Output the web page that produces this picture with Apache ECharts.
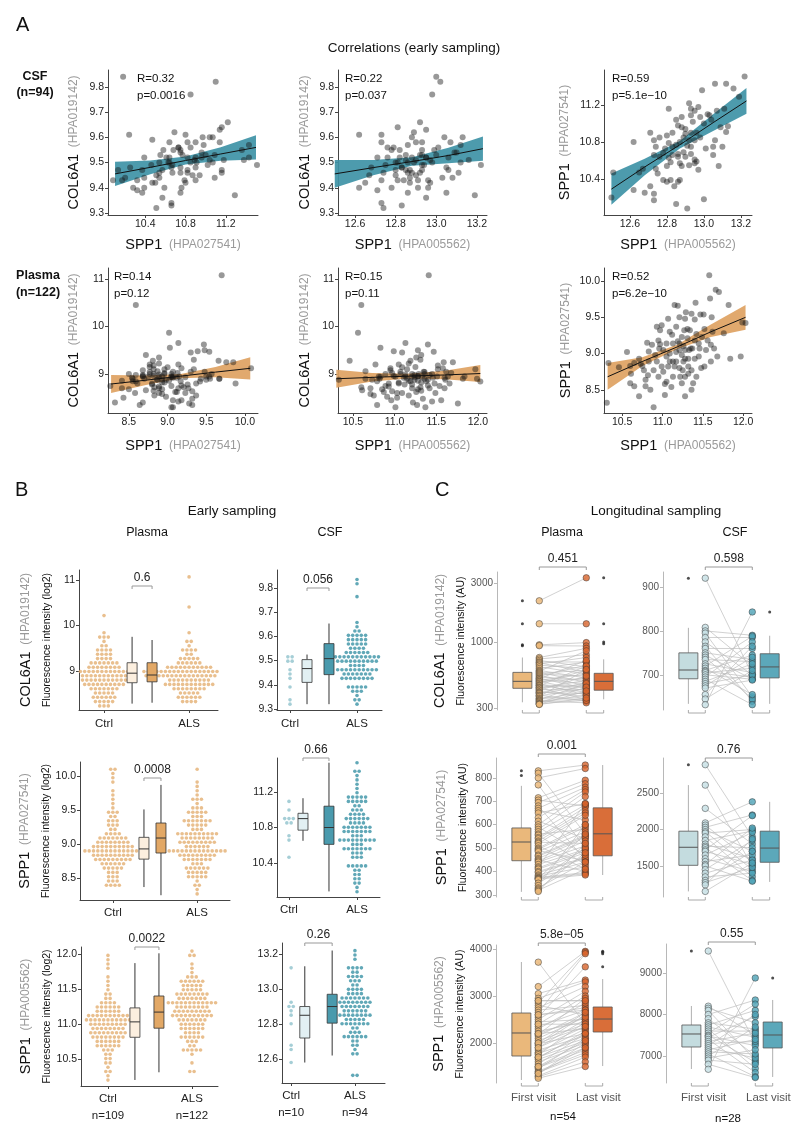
<!DOCTYPE html>
<html><head><meta charset="utf-8">
<script src="https://cdn.jsdelivr.net/npm/echarts@6/dist/echarts.min.js"></script>
<style>html,body{margin:0;padding:0;background:#fff}#c{width:800px;height:1138px}</style>
</head><body><div id="c"></div>
<script>
// ---------------- DATA ----------------
// CSF cohort (ALS, n=94): SPP1 HPA005562, SPP1 HPA027541, COL6A1 HPA019142
const csfSppB = [12.50,12.51,12.62,12.62,12.65,12.67,12.71,12.71,12.73,12.73,12.73,12.74,12.75,12.76,12.78,12.79,12.80,12.80,12.81,12.81,12.81,12.82,12.83,12.84,12.85,12.86,12.85,12.86,12.86,12.87,12.87,12.88,12.88,12.89,12.90,12.90,12.91,12.91,12.92,12.93,12.93,12.93,12.93,12.94,12.95,12.95,12.95,12.97,12.97,12.98,12.99,13.00,13.01,13.03,13.04,13.05,13.06,13.06,13.07,13.08,13.09,13.11,13.12,13.12,13.13,13.16,13.19,13.22,12.86,12.89,12.78,12.73,12.68,12.83,12.92,12.95,12.96,12.82,12.83,12.87,12.90,13.02,12.98,12.76,12.80,12.88,12.92,12.93,12.96,13.00,13.05,13.10,12.85,12.74];
const csfSppA = [10.20,10.47,10.28,10.80,10.47,10.51,10.90,10.32,10.24,10.82,10.66,10.75,10.46,10.64,10.39,10.73,10.87,10.37,11.16,10.63,10.79,10.58,10.75,10.32,10.77,10.37,11.04,10.67,10.98,10.80,10.57,10.96,11.07,10.85,10.94,10.64,10.76,10.08,11.22,11.16,11.09,10.67,10.75,11.02,10.57,11.14,10.82,11.18,10.50,11.07,11.36,10.18,10.73,11.09,11.04,10.75,11.43,10.82,11.14,10.54,10.96,11.16,11.43,10.91,10.97,11.38,11.29,11.51,10.64,10.69,10.68,10.17,10.25,10.66,10.82,10.61,10.59,10.39,10.90,10.39,10.89,11.10,10.85,10.85,10.54,10.54,10.55,10.90,10.90,11.00,10.66,10.75,10.13,10.51];
const csfCol6 = [9.44,9.59,9.40,9.61,9.42,9.45,9.52,9.39,9.61,9.58,9.34,9.46,9.49,9.52,9.40,9.56,9.45,9.47,9.64,9.50,9.43,9.55,9.48,9.43,9.53,9.38,9.51,9.46,9.57,9.42,9.47,9.52,9.60,9.50,9.45,9.58,9.40,9.43,9.66,9.47,9.53,9.49,9.55,9.49,9.36,9.63,9.52,9.51,9.42,9.50,9.55,9.84,9.56,9.44,9.60,9.38,9.52,9.47,9.58,9.44,9.54,9.46,9.57,9.50,9.60,9.51,9.37,9.49,9.50,9.62,9.55,9.43,9.48,9.33,9.46,9.52,9.40,9.52,9.48,9.44,9.51,9.82,9.77,9.56,9.50,9.46,9.53,9.58,9.43,9.53,9.48,9.54,9.47,9.32];
// Plasma cohort (ALS, n=122)
const plSppB = [10.31,10.33,10.46,10.56,10.60,10.60,10.61,10.71,10.73,10.75,10.77,10.79,10.81,10.82,10.83,10.87,10.89,10.93,10.95,10.96,10.97,10.99,11.01,11.03,11.03,11.05,11.07,11.07,11.09,11.11,11.12,11.13,11.15,11.15,11.17,11.19,11.19,11.21,11.21,11.21,11.22,11.24,11.25,11.26,11.27,11.28,11.28,11.29,11.31,11.31,11.32,11.33,11.34,11.35,11.36,11.37,11.38,11.40,11.41,11.42,11.45,11.46,11.47,11.48,11.49,11.51,11.52,11.54,11.56,11.58,11.59,11.61,11.62,11.64,11.66,11.70,11.76,11.82,11.84,11.97,11.99,10.79,10.89,10.65,10.85,11.01,11.05,11.09,11.13,11.17,11.21,11.26,11.28,11.32,11.36,11.40,11.42,11.45,11.52,11.60,11.68,10.65,10.71,10.83,10.93,10.99,10.91,11.09,11.17,11.24,11.28,10.95,11.05,11.24,11.32,11.40,11.13,11.60,10.97,11.28,11.36,12.03];
const plSppA = [8.32,8.87,8.81,9.02,8.83,8.59,8.72,8.41,8.86,8.83,8.77,8.64,9.15,8.70,9.03,9.12,8.26,9.37,9.18,9.07,9.13,9.39,9.05,8.58,8.43,9.14,9.48,8.82,9.30,8.54,9.26,9.14,9.67,8.82,9.37,9.17,9.66,9.14,9.50,9.05,8.68,8.98,8.77,9.10,9.32,9.48,9.05,9.57,9.21,9.34,8.93,9.05,9.32,9.07,9.55,9.07,8.59,9.47,9.70,9.27,8.96,9.07,9.54,8.80,9.23,9.54,9.34,9.05,9.18,10.08,9.76,9.50,9.30,9.07,9.88,9.85,9.28,9.67,8.93,8.96,9.43,8.55,8.77,8.55,8.50,8.75,8.96,8.89,8.68,8.89,8.80,8.89,8.68,8.82,8.77,8.93,8.68,9.14,8.82,8.89,8.96,8.87,8.93,8.89,8.89,8.82,8.98,9.00,9.02,9.23,8.93,8.68,8.61,8.59,8.72,9.18,8.89,9.12,9.32,8.41,8.50,9.42];
const plCol6 = [8.40,8.88,9.28,9.87,8.72,10.45,8.66,8.70,8.88,8.55,9.20,8.35,8.95,8.90,9.55,8.62,8.75,8.80,9.12,8.45,9.02,9.48,8.30,8.60,8.50,9.20,9.05,9.00,9.45,8.92,8.78,9.65,8.90,9.10,8.55,8.85,9.28,8.70,8.95,9.00,8.40,8.88,9.15,8.62,8.35,9.50,8.95,9.00,8.72,9.30,8.82,8.93,8.48,9.05,8.90,8.30,8.85,9.62,11.08,8.70,9.00,8.92,9.47,8.80,8.60,8.95,9.10,8.75,8.45,9.12,9.25,8.88,9.05,8.95,8.80,9.25,8.38,8.90,8.95,9.10,8.90,8.85,9.00,8.90,8.68,8.94,8.82,8.60,8.95,9.22,8.78,9.35,8.96,8.65,9.04,8.88,8.98,8.42,9.18,8.70,9.02,9.06,8.58,8.94,8.74,8.96,8.52,9.14,8.86,8.93,8.68,9.08,8.80,8.98,9.40,8.76,8.99,8.92,8.64,8.86,9.00,8.84];
// Controls
const plCtrlCol6 = [10.17,9.88,9.75,9.72,9.70,9.62,9.58,9.55,9.50,9.48,9.45,9.42,9.40,9.38,9.35,9.33,9.30,9.28,9.27,9.25,9.22,9.20,9.19,9.17,9.15,9.14,9.12,9.11,9.10,9.08,9.07,9.05,9.04,9.03,9.02,9.00,8.99,8.98,8.97,8.96,8.95,8.94,8.93,8.93,8.92,8.92,8.91,8.90,8.90,8.89,8.88,8.87,8.86,8.85,8.84,8.83,8.82,8.81,8.80,8.79,8.78,8.77,8.76,8.75,8.74,8.73,8.72,8.71,8.70,8.69,8.68,8.66,8.65,8.63,8.62,8.60,8.58,8.57,8.55,8.53,8.52,8.50,8.48,8.46,8.45,8.43,8.41,8.40,8.38,8.36,8.34,8.32,8.30,8.28,8.26,8.24,8.22,9.06,9.01,8.96,8.91,8.86,8.81,8.76,8.71,8.64,9.13,8.99,8.87];
const plCtrlSppA = [10.12,10.08,10.02,9.95,9.88,9.78,9.72,9.65,9.58,9.52,9.50,9.48,9.45,9.42,9.40,9.37,9.35,9.32,9.30,9.28,9.25,9.22,9.20,9.18,9.16,9.14,9.12,9.11,9.10,9.09,9.08,9.07,9.06,9.05,9.04,9.03,9.02,9.01,9.00,8.99,8.98,8.97,8.96,8.95,8.95,8.94,8.93,8.93,8.92,8.92,8.91,8.90,8.90,8.89,8.89,8.88,8.87,8.87,8.86,8.86,8.85,8.84,8.84,8.83,8.82,8.81,8.80,8.80,8.79,8.78,8.78,8.77,8.76,8.75,8.74,8.73,8.72,8.71,8.70,8.69,8.68,8.66,8.65,8.63,8.62,8.60,8.58,8.56,8.54,8.52,8.50,8.48,8.46,8.44,8.42,8.40,8.38,8.37,9.00,8.96,8.91,8.88,8.85,8.82,8.76,9.04,9.13,8.98,8.94];
const plCtrlSppB = [11.97,11.93,11.87,11.80,11.70,11.62,11.55,11.50,11.45,11.40,11.37,11.35,11.33,11.30,11.28,11.26,11.25,11.24,11.22,11.20,11.19,11.18,11.16,11.15,11.13,11.12,11.11,11.10,11.09,11.08,11.07,11.06,11.05,11.05,11.04,11.03,11.03,11.02,11.01,11.00,11.00,10.99,10.98,10.97,10.96,10.95,10.94,10.93,10.92,10.91,10.90,10.89,10.88,10.87,10.86,10.85,10.84,10.83,10.82,10.81,10.80,10.79,10.78,10.76,10.75,10.73,10.72,10.70,10.68,10.66,10.64,10.62,10.60,10.58,10.55,10.52,10.50,10.46,10.42,10.38,10.34,10.30,10.25,10.20,11.10,11.14,11.20,11.06,11.00,10.96,10.90,10.86,10.80,10.74,10.70,11.30,11.27,11.23,11.17,11.12,11.04,11.01,10.95,10.88,10.83,10.77,10.69,11.08,11.15];
const csfCtrlCol6 = [9.32,9.34,9.40,9.43,9.45,9.47,9.49,9.50,9.52,9.52];
const csfCtrlSppA = [10.48,10.65,10.72,10.83,10.86,10.88,10.89,10.92,11.02,11.11];
const csfCtrlSppB = [12.58,12.66,12.69,12.81,12.85,12.88,12.89,12.90,12.92,13.13];

// Box statistics panel B [min, q1, median, q3, max]
const boxB = [
  [[8.28,8.74,8.95,9.18,9.75],[8.30,8.76,8.91,9.18,9.68]],
  [[9.32,9.41,9.467,9.504,9.525],[9.32,9.442,9.508,9.57,9.653]],
  [[8.37,8.78,8.93,9.10,9.51],[8.25,8.87,9.09,9.31,9.87]],
  [[10.65,10.77,10.90,10.96,11.13],[10.08,10.61,10.80,11.04,11.53]],
  [[10.20,10.81,11.03,11.23,11.87],[10.31,10.94,11.17,11.40,12.01]],
  [[12.58,12.72,12.85,12.90,13.13],[12.62,12.805,12.90,12.97,13.22]]
];
const pB = ['0.6','0.056','0.0008','0.66','0.0022','0.26'];

// Panel C paired data (first visit, last visit)
const cPlCol6First = [2160,1415,960,945,760,740,720,700,690,675,660,640,620,600,590,580,570,560,550,540,530,520,515,505,500,490,485,475,470,460,455,450,440,435,430,420,415,405,400,395,390,380,375,370,360,355,350,345,340,335,330,325,322,320];
const cPlCol6Last  = [3300,1415,1000,940,900,800,640,700,580,760,620,560,700,520,860,480,600,540,450,660,500,430,720,470,560,410,520,600,380,440,400,650,460,350,500,420,540,370,390,480,450,340,430,610,360,400,470,350,330,380,440,345,410,360];
const cCsfCol6First = [920,808,800,795,785,775,765,760,750,745,740,735,725,720,715,710,708,705,700,695,690,685,680,675,670,655,645,632];
const cCsfCol6Last  = [700,720,790,650,785,700,640,760,735,690,645,730,705,788,655,745,695,715,690,775,632,725,700,740,688,765,710,843];
const cPlSppAFirst = [830,820,800,770,715,705,695,680,670,660,650,630,615,600,590,580,570,560,555,545,540,530,525,520,510,500,495,490,485,470,465,455,450,445,440,430,420,415,410,400,395,385,380,375,372,370,368,365,350,340,330,325,320,315];
const cPlSppALast  = [855,560,840,500,790,680,775,450,760,620,690,750,540,740,470,720,685,580,430,675,660,650,520,640,410,600,590,445,570,555,550,545,400,530,510,495,690,490,480,460,455,440,420,395,390,560,385,500,470,600,440,480,410,520];
const cCsfSppAFirst = [2890,2610,2290,2090,2060,2030,2000,1970,1950,1900,1850,1800,1770,1750,1720,1700,1650,1600,1560,1520,1500,1450,1400,1350,1300,1270,1240,1150];
const cCsfSppALast  = [1900,1500,1800,2380,1550,2200,1700,1450,2000,1350,1980,1600,1750,1300,2190,1520,1960,1420,1650,2020,1290,1850,1580,1400,1700,1480,1870,1540];
const cPlSppBFirst = [3720,3200,3050,2950,2900,2850,2800,2750,2700,2650,2600,2550,2500,2450,2400,2350,2300,2250,2200,2180,2150,2100,2050,2000,1980,1950,1900,1850,1800,1780,1750,1700,1680,1650,1600,1550,1500,1480,1450,1400,1380,1350,1300,1280,1250,2900,2600,2400,2200,2000,1900,1700,1500,1350];
const cPlSppBLast  = [2400,3950,3340,3300,2900,3930,2600,3200,2800,3900,2750,3620,3100,2500,3000,2700,2850,2450,2300,2950,2650,2550,2400,2350,2200,2600,2500,2150,2300,2100,2450,2050,2250,2000,1950,2200,1900,1850,2100,1800,1750,2000,1700,1600,1500,2900,2700,2400,2550,2650,2350,2200,2050,1900];
const cCsfSppBFirst = [9530,8200,8150,8100,8000,7900,7800,7750,7700,7650,7600,7550,7500,7480,7450,7400,7350,7300,7250,7200,7150,7100,7050,7000,6950,6900,6800,6680];
const cCsfSppBLast  = [7300,7500,7800,6900,8350,7000,7650,8100,7450,6700,7600,8250,6850,7250,7950,6600,7550,7350,8000,6950,7400,7050,6500,7700,7150,6800,6480,8880];
// Box statistics panel C [min,q1,median,q3,max] and outliers
const boxC = [
  [[333,431,490,578,760],[352,416,490,568,735]],
  [[634,691,711,750,807],[634,693,718,748,789]],
  [[313,446,526,586,766],[385,467,561,672,855]],
  [[1150,1508,1756,1977,2610],[1280,1550,1745,1977,2380]],
  [[1213,1723,2213,2638,3723],[1510,2234,2510,2766,3360]],
  [[6687,7217,7530,7747,8205],[6494,7193,7506,7819,8350]]
];
const outC = [
  [[2160,1415,960,945],[3300,1415,1010,980]],
  [[920],[843]],
  [[830,810],[]],
  [[2890],[]],
  [[],[3950,3930,3900,3620]],
  [[9530],[8880]]
];
const pC = ['0.451','0.598','0.001','0.76','5.8e\u221205','0.55'];

// Panel A correlation stats and fitted bands (x, fit, lower, upper)
const rA = ['0.32','0.22','0.59','0.14','0.15','0.52'];
const pA = ['0.0016','0.037','5.1e\u221210','0.12','0.11','6.2e\u221210'];
const bandX = [[10.1,10.45,10.8,11.15,11.5],[12.5,12.69,12.88,13.06,13.23],[12.5,12.68,12.87,13.05,13.23],[8.27,8.72,9.17,9.62,10.07],[10.3,10.73,11.16,11.6,12.03],[10.32,10.75,11.18,11.6,12.03]];
const bandFit = [[9.455,9.481,9.508,9.534,9.56],[9.455,9.480,9.504,9.528,9.555],[10.29,10.53,10.77,11.01,11.245],[8.79,8.87,8.955,9.04,9.12],[8.90,8.93,8.955,8.98,9.01],[8.68,8.89,9.09,9.30,9.50]];
const bandLo = [[9.407,9.454,9.492,9.507,9.512],[9.400,9.450,9.487,9.497,9.507],[10.12,10.44,10.73,10.92,11.105],[8.60,8.77,8.91,8.93,8.885],[8.71,8.84,8.905,8.89,8.83],[8.50,8.83,9.06,9.23,9.33]];
const bandHi = [[9.503,9.508,9.524,9.561,9.608],[9.510,9.510,9.521,9.559,9.603],[10.46,10.62,10.81,11.10,11.385],[8.98,8.97,9.00,9.15,9.355],[9.09,9.02,9.005,9.07,9.19],[8.87,8.95,9.12,9.40,9.67]];

// ---------------- BUILD ----------------
const F = 'Liberation Sans, Arial, Helvetica, sans-serif';
const grids=[], xAxes=[], yAxes=[], series=[], graphics=[];
const rects=[];
function addGrid(r, xa, ya){ const i=grids.length; rects.push(r); grids.push({left:r[0],top:r[1],width:r[2],height:r[3]}); xa.gridIndex=i; ya.gridIndex=i; xAxes.push(xa); yAxes.push(ya); return i; }
function ax(kind,min,max,ticks,fmt,extra){
  const c = kind==='C' ? '#b8b8b8' : '#444';
  const a = {type:'value',min:min,max:max,
    axisLine:{show:true,onZero:false,lineStyle:{color:c,width:1}},
    axisTick:{show:true,length:3,customValues:ticks,lineStyle:{color:c,width:1}},
    splitLine:{show:false},
    axisLabel:{customValues:ticks,formatter:fmt,fontSize:kind==='C'?10:10.5,color:kind==='C'?'#555':'#222',fontFamily:F,margin:4}};
  return Object.assign(a, extra||{});
}
const f1=v=>v.toFixed(1), f0=v=>String(Math.round(v));
const richG={g:{fontSize:14.5,color:'#111',fontFamily:F,lineHeight:24},h:{fontSize:12,color:'#9a9a9a',fontFamily:F,lineHeight:24},f:{fontSize:10.5,color:'#111',fontFamily:F,lineHeight:18}};
function gname(g,h){return '{g|'+g+'}  {h|('+h+')}';}
function text(t,x,y,o){o=o||{};graphics.push({type:'text',x:x,y:y,silent:true,style:{text:t,fontSize:o.s||12,fontFamily:F,fontWeight:o.b?'bold':'normal',fill:o.c||'#111',textAlign:o.a||'left',textVerticalAlign:o.v||'middle',verticalAlign:o.v||'middle'}});}

// ----- Panel A -----
const aRects=[[108,70,150,145],[338,70,149,145],[604,70,148,145],[108,268,150,145],[338,268,149,145],[604,268,148,145]];
const aX=[[10.03,11.52,[10.4,10.8,11.2],f1],[12.516,13.25,[12.6,12.8,13.0,13.2],f1],[12.46,13.26,[12.6,12.8,13.0,13.2],f1],[8.23,10.17,[8.5,9.0,9.5,10.0],f1],[10.32,12.11,[10.5,11.0,11.5,12.0],f1],[10.275,12.11,[10.5,11.0,11.5,12.0],f1]];
const aY=[[9.292,9.867,[9.3,9.4,9.5,9.6,9.7,9.8],f1],[9.292,9.867,[9.3,9.4,9.5,9.6,9.7,9.8],f1],[10.01,11.58,[10.4,10.8,11.2],f1],[8.18,11.23,[9,10,11],f0],[8.18,11.23,[9,10,11],f0],[8.18,10.18,[8.5,9.0,9.5,10.0],f1]];
const aXn=[['SPP1','HPA027541'],['SPP1','HPA005562'],['SPP1','HPA005562'],['SPP1','HPA027541'],['SPP1','HPA005562'],['SPP1','HPA005562']];
const aYn=[['COL6A1','HPA019142'],['COL6A1','HPA019142'],['SPP1','HPA027541'],['COL6A1','HPA019142'],['COL6A1','HPA019142'],['SPP1','HPA027541']];
const aPts=[[csfSppA,csfCol6],[csfSppB,csfCol6],[csfSppB,csfSppA],[plSppA,plCol6],[plSppB,plCol6],[plSppB,plSppA]];
const aYgap=[22,21,27,22,21,26];
const aStatDx=[29,7,8,6,7,8];
for(let k=0;k<6;k++){
  const r=aRects[k];
  const gi=addGrid(r,
    ax('A',aX[k][0],aX[k][1],aX[k][2],aX[k][3],{name:gname(aXn[k][0],aXn[k][1]),nameLocation:'middle',nameGap:k<3?18:21,nameTextStyle:{rich:richG}}),
    ax('A',aY[k][0],aY[k][1],aY[k][2],aY[k][3],{name:gname(aYn[k][0],aYn[k][1]),nameLocation:'middle',nameRotate:90,nameGap:aYgap[k],nameTextStyle:{rich:richG}}));
  const col = k<3 ? '#3e93a6' : '#dea262';
  const bx=bandX[k], lo=bandLo[k], hi=bandHi[k], fit=bandFit[k];
  series.push({type:'custom',xAxisIndex:gi,yAxisIndex:gi,z:2,silent:true,data:[[bx[2],fit[2]]],renderItem:function(p,api){
    const pts=[]; for(let j=0;j<bx.length;j++) pts.push(api.coord([bx[j],hi[j]])); for(let j=bx.length-1;j>=0;j--) pts.push(api.coord([bx[j],lo[j]]));
    return {type:'polygon',shape:{points:pts},style:{fill:col,opacity:0.92}};
  }});
  const xs=aPts[k][0], ys=aPts[k][1];
  series.push({type:'scatter',xAxisIndex:gi,yAxisIndex:gi,z:3,symbolSize:6,silent:true,itemStyle:{color:'rgba(20,20,20,0.55)'},data:xs.map((x,i)=>[x,ys[i]])});
  series.push({type:'custom',xAxisIndex:gi,yAxisIndex:gi,z:4,silent:true,data:[[bx[2],fit[2]]],renderItem:function(p,api){
    return {type:'polyline',shape:{points:bx.map((x,j)=>api.coord([x,fit[j]]))},style:{stroke:'#111',lineWidth:1,fill:null}};
  }});
  text('R='+rA[k], r[0]+aStatDx[k], r[1]+9, {s:11.5});
  text('p='+pA[k], r[0]+aStatDx[k], r[1]+26, {s:11.5});
}

// ----- Panel B -----
const bRects=[[79,570,139,140],[277,570,105,140],[80,762,150,138],[277,758,103,139],[81,947,137,139],[282,943,103,140]];
const bX=[[-0.294,1.34,0.33,0.565],[-0.194,1.373,0.254,0.582],[-0.39,1.39,0.369,0.571],[-0.176,1.338,0.206,0.588],[-0.321,1.31,0.321,0.607],[-0.143,1.471,0.214,0.643]];
const bY=[[8.14,11.22,[9,10,11],f0],[9.296,9.874,[9.3,9.4,9.5,9.6,9.7,9.8],f1],[8.18,10.206,[8.5,9.0,9.5,10.0],f1],[10.017,11.583,[10.4,10.8,11.2],f1],[10.114,12.1,[10.5,11.0,11.5,12.0],f1],[12.463,13.263,[12.6,12.8,13.0,13.2],f1]];
const bVals=[[plCtrlCol6,plCol6],[csfCtrlCol6,csfCol6],[plCtrlSppA,plSppA],[csfCtrlSppA,csfSppA],[plCtrlSppB,plSppB],[csfCtrlSppB,csfSppB]];
const bGene=[['COL6A1','HPA019142'],null,['SPP1','HPA027541'],null,['SPP1','HPA005562'],null];
const bBrk=[16,18,16,0,0,0];
const nB=[['n=109','n=122'],['n=10','n=94']];
function swarm(vals,center,binY,dx){
  const bins={}; vals.forEach(v=>{const q=Math.round(v/binY); (bins[q]=bins[q]||[]).push(v);});
  const out=[]; Object.keys(bins).forEach(q=>{const n=bins[q].length; for(let j=0;j<n;j++) out.push([center+(j-(n-1)/2)*dx, q*binY]);});
  return out;
}
function boxSeries(gi,xs,stats,fills,w,stroke,whisk){
  series.push({type:'custom',xAxisIndex:gi,yAxisIndex:gi,z:5,silent:true,data:xs.map((x,k)=>[x,stats[k][2]]),renderItem:function(p,api){
    const k=p.dataIndex,s=stats[k],x=xs[k];
    const a=api.coord([x,s[0]]),b=api.coord([x,s[1]]),m=api.coord([x,s[2]]),c=api.coord([x,s[3]]),d=api.coord([x,s[4]]);
    const cx=a[0];
    return {type:'group',children:[
      {type:'line',shape:{x1:cx,y1:d[1],x2:cx,y2:c[1]},style:{stroke:whisk,lineWidth:1}},
      {type:'line',shape:{x1:cx,y1:b[1],x2:cx,y2:a[1]},style:{stroke:whisk,lineWidth:1}},
      {type:'rect',shape:{x:cx-w/2,y:c[1],width:w,height:b[1]-c[1]},style:{fill:fills[k],stroke:stroke,lineWidth:0.8}},
      {type:'line',shape:{x1:cx-w/2,y1:m[1],x2:cx+w/2,y2:m[1]},style:{stroke:stroke,lineWidth:1}}]};
  }});
}
function bracketTop(gi,x1,x2,yref,off,label){
  series.push({type:'custom',xAxisIndex:gi,yAxisIndex:gi,z:6,silent:true,data:[[x1,yref]],renderItem:function(p,api){
    const y=p.coordSys.y+off; const a=api.coord([x1,yref])[0], b=api.coord([x2,yref])[0];
    return {type:'group',children:[
      {type:'polyline',shape:{points:[[a,y+3],[a,y],[b,y],[b,y+3]]},style:{stroke:'#999',lineWidth:1,fill:null}},
      {type:'text',style:{text:label,x:(a+b)/2,y:y-2,textAlign:'center',textVerticalAlign:'bottom',verticalAlign:'bottom',fontSize:12,fontFamily:F,fill:'#222'}}]};
  }});
}
for(let k=0;k<6;k++){
  const r=bRects[k], isCsf=k%2===1, row=Math.floor(k/2);
  const xlab = row===2 ? (v=> (v<0.5?'Ctrl':'ALS')+'\n{n|'+nB[isCsf?1:0][v<0.5?0:1]+'}') : (v=> v<0.5?'Ctrl':'ALS');
  const xa=ax('B',bX[k][0],bX[k][1],[0,1],xlab);
  xa.axisLabel.fontSize=11.5; xa.axisLabel.margin=row===0?5:4; xa.axisLabel.lineHeight=17; xa.axisLabel.rich={n:{fontSize:11.5,fontFamily:F,color:'#222',lineHeight:17}};
  const ya=ax('B',bY[k][0],bY[k][1],bY[k][2],bY[k][3]);
  if(bGene[k]){ ya.name=gname(bGene[k][0],bGene[k][1])+'\n{f|Fluorescence intensity (log2)}'; ya.nameLocation='middle'; ya.nameRotate=90; ya.nameGap=23; ya.nameTextStyle={rich:richG}; }
  const gi=addGrid(r,xa,ya);
  const binY=4.3*(bY[k][1]-bY[k][0])/r[3], dx=4.3*(bX[k][1]-bX[k][0])/r[2];
  const cCtrl=isCsf?'#8fc2cc':'#e3af72', cAls=isCsf?'#3a92a5':'#e3af72';
  series.push({type:'scatter',xAxisIndex:gi,yAxisIndex:gi,z:3,silent:true,symbolSize:3.6,itemStyle:{color:cCtrl},data:swarm(bVals[k][0],0,binY,dx)});
  series.push({type:'scatter',xAxisIndex:gi,yAxisIndex:gi,z:3,silent:true,symbolSize:3.6,itemStyle:{color:cAls},data:swarm(bVals[k][1],1,binY,dx)});
  const fills=isCsf?['#e2f0f3','#4a9aad']:['#fcefdf','#e2a866'];
  boxSeries(gi,[bX[k][2],bX[k][3]],boxB[k],fills,10,'#333','#333');
  bracketTop(gi,bX[k][2],bX[k][3],bY[k][2][0],bBrk[k],pB[k]);
}

// ----- Panel C -----
const cRects=[[497,572,125,138],[663,572,125,138],[496,758,125,139],[663,758,125,139],[496,945,125,138],[666,944,125,139]];
const cY=[['log',289,3672,[300,1000,3000]],['value',620,934,[700,800,900]],['value',291,885,[300,400,500,600,700,800]],['value',1073,2982,[1500,2000,2500]],['value',1149,4085,[2000,3000,4000]],['value',6349,9699,[7000,8000,9000]]];
const cPairs=[[cPlCol6First,cPlCol6Last],[cCsfCol6First,cCsfCol6Last],[cPlSppAFirst,cPlSppALast],[cCsfSppAFirst,cCsfSppALast],[cPlSppBFirst,cPlSppBLast],[cCsfSppBFirst,cCsfSppBLast]];
const cGene=[['COL6A1','HPA019142'],null,['SPP1','HPA027541'],null,['SPP1','HPA005562'],null];
const cBrk=[-5,-5,-4,0,-2,-2];
const XB1=-0.36, XB2=1.37;
for(let k=0;k<6;k++){
  const r=cRects[k], isCsf=k%2===1, row=Math.floor(k/2);
  const xa=ax('C',-0.9,1.76,row===2?[-0.1,1.28]:[],v=>v<0.5?'First visit':'Last visit');
  xa.axisLine={show:false}; xa.axisTick={show:false}; xa.axisLabel.show=row===2; xa.axisLabel.fontSize=11.5; xa.axisLabel.margin=9; xa.axisLabel.color='#555';
  const ya=ax('C',cY[k][1],cY[k][2],cY[k][3],f0); ya.type=cY[k][0]; if(ya.type==='log') ya.logBase=10;
  if(cGene[k]){ ya.name=gname(cGene[k][0],cGene[k][1])+'\n{f|Fluorescence intensity (AU)}'; ya.nameLocation='middle'; ya.nameRotate=90; ya.nameGap=24; ya.nameTextStyle={rich:richG}; }
  const gi=addGrid(r,xa,ya);
  const fi=cPairs[k][0], la=cPairs[k][1];
  const ymid=cY[k][3][0];
  series.push({type:'custom',xAxisIndex:gi,yAxisIndex:gi,z:2,silent:true,data:fi.map(v=>[0.5,v]),renderItem:function(p,api){
    const i=p.dataIndex; const a=api.coord([0,fi[i]]), b=api.coord([1,la[i]]);
    return {type:'line',shape:{x1:a[0],y1:a[1],x2:b[0],y2:b[1]},style:{stroke:'#bdbdbd',lineWidth:0.7}};
  }});
  const cF=isCsf?'#c6e0e5':'#eab574', cL=isCsf?'#4ea3b6':'#d8642c';
  series.push({type:'scatter',xAxisIndex:gi,yAxisIndex:gi,z:3,silent:true,symbolSize:6.5,itemStyle:{color:cF,borderColor:'#333',borderWidth:0.6},data:fi.map(v=>[0,v])});
  series.push({type:'scatter',xAxisIndex:gi,yAxisIndex:gi,z:3,silent:true,symbolSize:6.5,itemStyle:{color:cL,borderColor:'#333',borderWidth:0.6},data:la.map(v=>[1,v])});
  const fills=isCsf?['rgba(190,216,220,0.9)','rgba(74,158,178,0.9)']:['rgba(232,178,112,0.92)','rgba(214,98,40,0.92)'];
  boxSeries(gi,[XB1,XB2],boxC[k],fills,19,'#555','#b0b0b0');
  const od=[]; outC[k][0].forEach(v=>od.push([XB1,v])); outC[k][1].forEach(v=>od.push([XB2,v]));
  series.push({type:'scatter',xAxisIndex:gi,yAxisIndex:gi,z:4,silent:true,symbolSize:3,itemStyle:{color:'#222'},data:od});
  bracketTop(gi,0,1,ymid,cBrk[k],pC[k]);
  series.push({type:'custom',xAxisIndex:gi,yAxisIndex:gi,z:6,silent:true,data:[[0,ymid]],renderItem:function(p,api){
    const y=p.coordSys.y+p.coordSys.height+3;
    const a1=api.coord([XB1,ymid])[0],a2=api.coord([0,ymid])[0],b1=api.coord([1,ymid])[0],b2=api.coord([XB2,ymid])[0];
    return {type:'group',children:[
      {type:'polyline',shape:{points:[[a1,y-3],[a1,y],[a2,y],[a2,y-3]]},style:{stroke:'#aaa',lineWidth:1,fill:null}},
      {type:'polyline',shape:{points:[[b1,y-3],[b1,y],[b2,y],[b2,y-3]]},style:{stroke:'#aaa',lineWidth:1,fill:null}}]};
  }});
}

// ----- Titles -----
text('A',16,25,{s:20});
text('B',15,490,{s:20});
text('C',435,490,{s:20});
text('Correlations (early sampling)',414,48,{s:13.5,a:'center'});
text('CSF',35,77,{s:12.5,b:true,a:'center'});
text('(n=94)',35,93,{s:12.5,b:true,a:'center'});
text('Plasma',38,276,{s:12.5,b:true,a:'center'});
text('(n=122)',38,293,{s:12.5,b:true,a:'center'});
text('Early sampling',232,511,{s:13.5,a:'center'});
text('Plasma',147,533,{s:12.5,a:'center'});
text('CSF',330,533,{s:12.5,a:'center'});
text('Longitudinal sampling',656,511,{s:13.5,a:'center'});
text('Plasma',562,533,{s:12.5,a:'center'});
text('CSF',735,533,{s:12.5,a:'center'});
text('n=54',563,1117,{s:11.5,a:'center'});
text('n=28',728,1119,{s:11.5,a:'center'});

const chart=echarts.init(document.getElementById('c'),null,{renderer:'canvas'});
chart.setOption({backgroundColor:'#fff',animation:false,textStyle:{fontFamily:F},grid:grids,xAxis:xAxes,yAxis:yAxes,series:series,graphic:graphics});
</script></body></html>
